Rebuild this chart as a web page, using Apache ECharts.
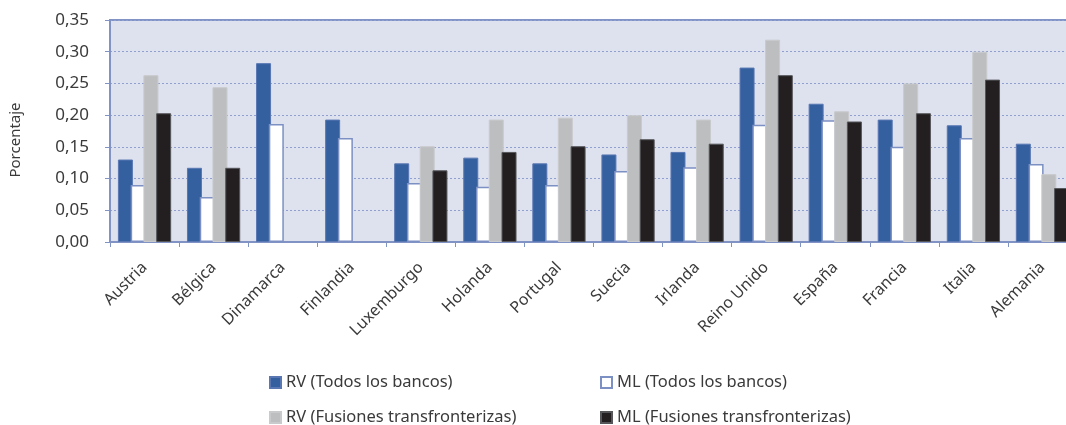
<!DOCTYPE html>
<html>
<head>
<meta charset="utf-8">
<script src="https://cdn.jsdelivr.net/npm/echarts@6/dist/echarts.min.js"></script>
<style>
  html, body { margin: 0; padding: 0; background: #fff; overflow: hidden; }
  #wrap { width: 1066px; height: 425px; overflow: hidden; }
  #chart { width: 1090px; height: 425px; }
</style>
</head>
<body>
<div id="wrap"><div id="chart"></div></div>
<script>
// Countries along the category axis
const countries = ['Austria', 'Bélgica', 'Dinamarca', 'Finlandia', 'Luxemburgo', 'Holanda', 'Portugal',
  'Suecia', 'Irlanda', 'Reino Unido', 'España', 'Francia', 'Italia', 'Alemania'];

// Series names
const seriesNames = ['RV (Todos los bancos)', 'ML (Todos los bancos)',
  'RV (Fusiones transfronterizas)', 'ML (Fusiones transfronterizas)'];

// Values (percentage); null = no data
const rvTodos = [0.130, 0.117, 0.282, 0.193, 0.124, 0.133, 0.124, 0.138, 0.142, 0.275, 0.218, 0.193, 0.184, 0.155];
const mlTodos = [0.090, 0.071, 0.186, 0.164, 0.093, 0.087, 0.090, 0.112, 0.118, 0.185, 0.192, 0.150, 0.164, 0.123];
const rvFusiones = [0.263, 0.244, null, null, 0.151, 0.193, 0.196, 0.200, 0.193, 0.319, 0.206, 0.250, 0.300, 0.107];
const mlFusiones = [0.203, 0.117, null, null, 0.113, 0.142, 0.151, 0.162, 0.155, 0.263, 0.190, 0.203, 0.256, 0.085];

// Y axis range
const yMin = 0, yMax = 0.35, yStep = 0.05;

const FONT = 'Noto Sans';
const TEXT = '#3a3a3a';
const AXIS = '#8193C5';

const styles = [
  { color: '#3560A0', borderColor: '#5877B3', borderWidth: 1 },
  { color: '#ffffff', borderColor: '#7D90C4', borderWidth: 1.5 },
  { color: '#BDBEC0', borderColor: '#C9CACC', borderWidth: 1 },
  { color: '#231F20', borderColor: '#55565a', borderWidth: 1 }
];
const values = [rvTodos, mlTodos, rvFusiones, mlFusiones];

const chart = echarts.init(document.getElementById('chart'), null, { renderer: 'canvas' });

const legendPos = [
  { left: 264, top: 369 }, { left: 595, top: 369 },
  { left: 264, top: 404 }, { left: 595, top: 404 }
];

chart.setOption({
  animation: false,
  textStyle: { fontFamily: FONT },
  grid: {
    left: 110, top: 20, right: 13, bottom: 183,
    show: true, backgroundColor: '#DEE1EE', borderColor: AXIS, borderWidth: 2
  },
  legend: legendPos.map((p, i) => ({
    data: [seriesNames[i]],
    left: p.left, top: p.top,
    icon: 'rect', itemWidth: 11, itemHeight: 11, itemGap: 6,
    textStyle: { fontFamily: FONT, fontSize: 16.5, color: TEXT },
    selectedMode: false
  })),
  xAxis: {
    type: 'category',
    data: countries,
    axisLine: { lineStyle: { color: AXIS, width: 2 } },
    axisTick: { show: true, length: 5, lineStyle: { color: AXIS, width: 1 } },
    axisLabel: { rotate: 45, fontSize: 16, color: TEXT, fontFamily: FONT, margin: 23, interval: 0 },
    splitLine: { show: false }
  },
  yAxis: {
    type: 'value',
    min: yMin, max: yMax, interval: yStep,
    name: 'Porcentaje',
    nameLocation: 'middle',
    nameGap: 87,
    nameTextStyle: { fontSize: 15, color: TEXT, fontFamily: FONT, padding: [0, 18, 0, 0] },
    axisLine: { show: true, lineStyle: { color: AXIS, width: 2 } },
    axisTick: { show: true, inside: false, length: 5, lineStyle: { color: AXIS } },
    axisLabel: {
      fontSize: 17, color: TEXT, fontFamily: FONT, margin: 21,
      formatter: v => v.toFixed(2).replace('.', ',')
    },
    splitLine: { show: true, lineStyle: { color: '#8FA0D0', type: [2, 2], width: 1 } }
  },
  series: seriesNames.map((name, i) => ({
    name,
    type: 'bar',
    data: values[i],
    barWidth: 15,
    barGap: '-15%',
    itemStyle: styles[i]
  }))
});
</script>
</body>
</html>
